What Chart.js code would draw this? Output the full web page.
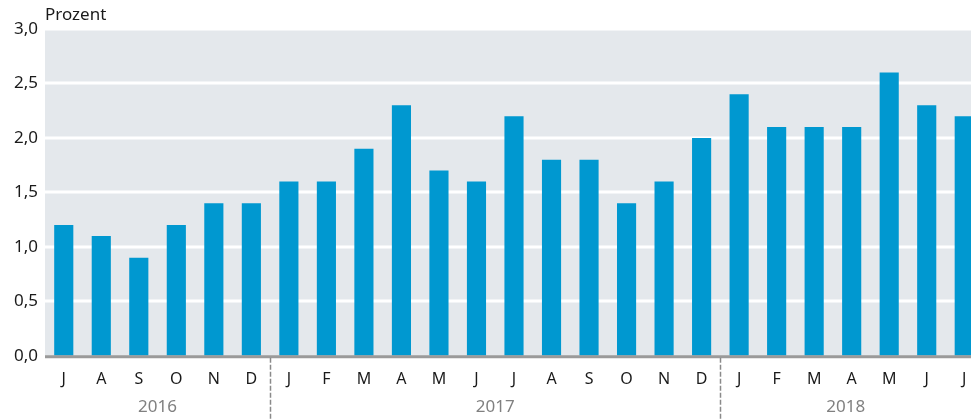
<!DOCTYPE html>
<html>
<head>
<meta charset="utf-8">
<script src="https://cdn.jsdelivr.net/npm/chart.js@4"></script>
<style>
  html, body { margin: 0; padding: 0; overflow: hidden; background: #fff; }
  #wrap { width: 985px; height: 419px; position: relative; }
</style>
</head>
<body>
<div id="wrap"><canvas id="c"></canvas></div>
<script>
const months = ['J','A','S','O','N','D','J','F','M','A','M','J','J','A','S','O','N','D','J','F','M','A','M','J','J'];
const values = [1.2,1.1,0.9,1.2,1.4,1.4,1.6,1.6,1.9,2.3,1.7,1.6,2.2,1.8,1.8,1.4,1.6,2.0,2.4,2.1,2.1,2.1,2.6,2.3,2.2];
const years = ['2016','2017','2018'];
const yearCounts = [6,12,7];
const yTicks = [0,0.5,1,1.5,2,2.5,3];
const unitLabel = 'Prozent';

const FONT = "'Source Sans Pro', 'Noto Sans', sans-serif";

const decor = {
  id: 'decor',
  beforeDatasetsDraw(chart) {
    const {ctx, chartArea: a, scales: {y}} = chart;
    ctx.save();
    ctx.fillStyle = '#e4e8ec';
    ctx.fillRect(a.left, a.top, a.right - a.left, a.bottom - a.top);
    ctx.strokeStyle = '#ffffff';
    ctx.lineWidth = 3;
    yTicks.forEach(v => {
      if (v === 0) return;
      const py = Math.round(y.getPixelForValue(v));
      ctx.beginPath(); ctx.moveTo(a.left, py); ctx.lineTo(a.right, py); ctx.stroke();
    });
    ctx.restore();
  },
  afterDatasetsDraw(chart) {
    const {ctx, chartArea: a, scales: {x, y}} = chart;
    ctx.save();
    const py = y.getPixelForValue(0);
    ctx.strokeStyle = '#9a9a9a';
    ctx.lineWidth = 3;
    ctx.beginPath(); ctx.moveTo(a.left, py + 1); ctx.lineTo(a.right, py + 1); ctx.stroke();

    const visibleRight = Math.min(a.right, window.innerWidth);
    let start = 0;
    ctx.font = "17px " + FONT;
    ctx.fillStyle = '#808080';
    ctx.textAlign = 'center';
    ctx.textBaseline = 'middle';
    years.forEach((yr, i) => {
      const end = start + yearCounts[i];
      const leftPx = i === 0 ? a.left : (x.getPixelForValue(start - 1) + x.getPixelForValue(start)) / 2;
      const rightPx = i === years.length - 1 ? visibleRight : (x.getPixelForValue(end - 1) + x.getPixelForValue(end)) / 2;
      if (i > 0) {
        ctx.save();
        ctx.strokeStyle = '#8a8a8a';
        ctx.lineWidth = 1.5;
        ctx.setLineDash([5, 2]);
        ctx.beginPath();
        ctx.moveTo(Math.round(leftPx) + 0.5, py + 2);
        ctx.lineTo(Math.round(leftPx) + 0.5, chart.height);
        ctx.stroke();
        ctx.restore();
      }
      ctx.fillText(yr, (leftPx + rightPx) / 2, 407);
      start = end;
    });

    ctx.fillStyle = '#1a1a1a';
    ctx.textAlign = 'left';
    ctx.font = "17px " + FONT;
    ctx.fillText(unitLabel, a.left, 15);
    ctx.restore();
  }
};

new Chart(document.getElementById('c'), {
  type: 'bar',
  data: {
    labels: months,
    datasets: [{
      data: values,
      backgroundColor: '#0098d0',
      borderWidth: 0,
      barPercentage: 0.51,
      categoryPercentage: 1.0
    }]
  },
  options: {
    responsive: true,
    maintainAspectRatio: false,
    animation: false,
    layout: { padding: { top: 29, right: 2, bottom: 16, left: 0 } },
    plugins: { legend: { display: false }, tooltip: { enabled: false } },
    scales: {
      x: {
        grid: { display: false, drawTicks: false },
        border: { display: false },
        ticks: { color: '#1a1a1a', font: { size: 16, family: FONT }, padding: 14, maxRotation: 0, autoSkip: false }
      },
      y: {
        min: 0, max: 3,
        afterFit(scale) { scale.width = 45; },
        afterBuildTicks(scale) { scale.ticks = yTicks.map(v => ({ value: v })); },
        grid: { display: false, drawTicks: false },
        border: { display: false },
        ticks: {
          color: '#1a1a1a', font: { size: 17, family: FONT }, padding: 7,
          callback: v => Number(v).toFixed(1).replace('.', ',')
        }
      }
    }
  },
  plugins: [decor]
});
</script>
</body>
</html>
